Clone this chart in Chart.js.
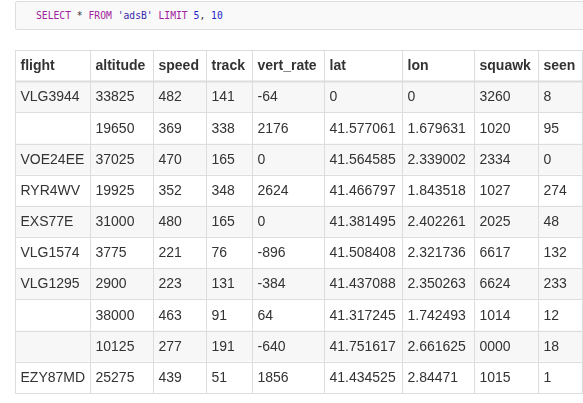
<!DOCTYPE html>
<html>
<head>
<meta charset="utf-8">
<script src="https://cdn.jsdelivr.net/npm/chart.js@4.4.0/dist/chart.umd.min.js"></script>
<style>
html,body{margin:0;padding:0;background:#fff;overflow:hidden;width:583px;height:403px;}
.code{position:absolute;left:15px;top:1px;width:640px;height:29px;box-sizing:border-box;
  border:1px solid #ddd;border-radius:2px;background:#f9f9f9;}
.code pre{margin:0;padding-left:20px;font:9.7px 'DejaVu Sans Mono',monospace;line-height:27px;color:#333;}
.kw{color:#a0229e}.str{color:#3a28a8}.num{color:#2424c8}
#wrap{position:absolute;left:14px;top:49px;width:570px;height:345px;}
</style>
</head>
<body>
<div class="code"><pre><span class="kw">SELECT</span> * <span class="kw">FROM</span> <span class="str">'adsB'</span> <span class="kw">LIMIT</span> <span class="num">5</span>, <span class="num">10</span></pre></div>
<div id="wrap"><canvas id="tbl" width="570" height="345"></canvas></div>
<script>
/* ─── DATA ──────────────────────────────── */
const COLUMNS  = ['flight','altitude','speed','track','vert_rate','lat','lon','squawk','seen'];
const flight   = ['VLG3944','','VOE24EE','RYR4WV','EXS77E','VLG1574','VLG1295','','','EZY87MD'];
const altitude = [33825,19650,37025,19925,31000,3775,2900,38000,10125,25275];
const speed    = [482,369,470,352,480,221,223,463,277,439];
const track    = [141,338,165,348,165,76,131,91,191,51];
const vertRate = [-64,2176,0,2624,0,-896,-384,64,-640,1856];
const lat      = ['0','41.577061','41.564585','41.466797','41.381495','41.508408','41.437088','41.317245','41.751617','41.434525'];
const lon      = ['0','1.679631','2.339002','1.843518','2.402261','2.321736','2.350263','1.742493','2.661625','2.84471'];
const squawk   = ['3260','1020','2334','1027','2025','6617','6624','1014','0000','1015'];
const seen     = [8,95,0,274,48,132,233,12,18,1];

/* ─── LAYOUT ────────────────────────────── */
const COL_WIDTHS = [75,63,53,46,72,78,72,64,44];
const TOTAL_W    = COL_WIDTHS.reduce((a,b)=>a+b,0);
const CELL_PAD   = 5.5;
const LINE_COL   = '#dddddd';
const STRIPE     = '#f7f7f7';

const cols   = [flight,altitude,speed,track,vertRate,lat,lon,squawk,seen];
const rowIds = ['head'].concat(flight.map((_,i)=>'r'+i));

/* ─── TABLE PLUGIN ──────────────────────── */
const tablePlugin = {
  id:'tableCells',
  afterDatasetsDraw(chart){
    const ctx = chart.ctx;
    ctx.save();
    ctx.strokeStyle = LINE_COL;
    ctx.lineWidth = 1;
    let headBottom = 0;
    chart.data.datasets.forEach((ds,c)=>{
      const meta = chart.getDatasetMeta(c);
      meta.data.forEach((el,r)=>{
        const left  = Math.round(Math.min(el.base,el.x));
        const right = Math.round(Math.max(el.base,el.x));
        const top   = Math.round(el.y - el.height/2);
        const bot   = Math.round(el.y + el.height/2);
        ctx.strokeRect(left+0.5, top+0.5, right-left, bot-top);
        if(r===0) headBottom = bot;
        ctx.fillStyle = '#333';
        ctx.textBaseline = 'middle';
        ctx.font = (r===0 ? 'bold ' : '') + '14px "Liberation Sans", Arial, sans-serif';
        const txt = r===0 ? COLUMNS[c] : String(cols[c][r-1]);
        ctx.fillText(txt, left + CELL_PAD, (top+bot)/2 + 1);
      });
    });
    // thicker rule under the header
    const area = chart.chartArea;
    ctx.lineWidth = 2;
    ctx.beginPath();
    ctx.moveTo(area.left, headBottom+0.5);
    ctx.lineTo(area.right+1, headBottom+0.5);
    ctx.stroke();
    ctx.restore();
  }
};

/* ─── CHART ─────────────────────────────── */
const datasets = COLUMNS.map((name,c)=>({
  label:name,
  data:rowIds.map(()=>COL_WIDTHS[c]),
  backgroundColor:rowIds.map((_,r)=> (r>0 && (r-1)%2===0) ? STRIPE : '#ffffff'),
  borderWidth:0,
  barPercentage:1,
  categoryPercentage:1,
  stack:'t'
}));

new Chart(document.getElementById('tbl').getContext('2d'),{
  type:'bar',
  data:{ labels:rowIds, datasets },
  options:{
    indexAxis:'y',
    responsive:false,
    animation:false,
    layout:{padding:{left:1,top:1,right:2,bottom:1}},
    plugins:{ legend:{display:false}, tooltip:{enabled:false} },
    scales:{
      x:{type:'linear',stacked:true,min:0,max:TOTAL_W,display:false},
      y:{stacked:true,display:false}
    }
  },
  plugins:[tablePlugin]
});
</script>
</body>
</html>
